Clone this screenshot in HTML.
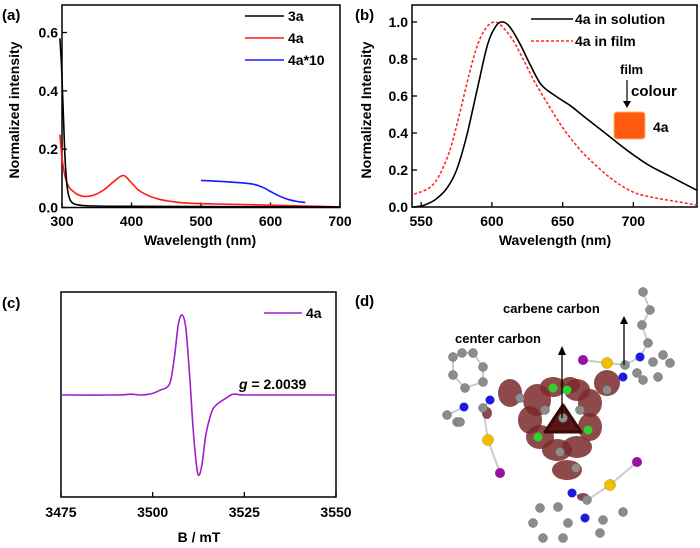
<!DOCTYPE html>
<html><head><meta charset="utf-8"><style>
body{margin:0;background:#fff}
svg{display:block;font-family:"Liberation Sans",sans-serif;font-weight:bold}
</style></head><body>
<svg width="700" height="548" viewBox="0 0 700 548">
<g id="pa"></g>
<g id="pb"></g>
<g id="pc"></g>
<g id="pd"></g>
</svg>
<script>
// Panel a data
const aX3a=[297,299,301,303,305,308,312,318,330,350,400,500,700];
const aY3a=[0.58,0.5,0.38,0.25,0.14,0.06,0.025,0.012,0.007,0.005,0.004,0.003,0.002];
const aX4a=[297,300,305,310,315,322,332,345,360,375,388,398,410,425,440,460,480,520,560,600,650,700];
const aY4a=[0.25,0.17,0.1,0.07,0.058,0.045,0.038,0.042,0.06,0.09,0.11,0.09,0.06,0.04,0.028,0.02,0.015,0.012,0.01,0.008,0.005,0.002];
const aX10=[500,525,550,575,590,600,612,625,640,650];
const aY10=[0.093,0.09,0.086,0.08,0.068,0.055,0.04,0.028,0.02,0.017];
const aXTicks=[300,400,500,600,700];
const aYTicks=[0.0,0.2,0.4,0.6];
// Panel b data
const bXSol=[545,552,560,568,575,582,590,597,603,608,613,620,627,635,645,655,665,680,695,710,725,745];
const bYSol=[0.0,0.01,0.04,0.1,0.2,0.38,0.65,0.88,0.98,1.0,0.97,0.88,0.77,0.66,0.6,0.55,0.49,0.4,0.31,0.23,0.17,0.09];
const bXFilm=[545,555,562,570,577,584,590,596,602,608,615,622,630,640,650,660,670,685,700,715,730,745];
const bYFilm=[0.07,0.1,0.16,0.3,0.5,0.72,0.88,0.97,1.0,0.97,0.9,0.8,0.68,0.55,0.43,0.33,0.25,0.15,0.08,0.05,0.03,0.01];
const bXTicks=[550,600,650,700];
const bYTicks=[0.0,0.2,0.4,0.6,0.8,1.0];
// Panel c data
const cX=[3475,3490,3494,3497,3500,3502,3504,3505,3506,3507,3508,3509,3510,3511,3512,3512.7,3513.5,3514.5,3515.5,3516.5,3518,3520,3522,3525,3535,3550];
const cY=[0,0,0.01,0,0.02,0.06,0.1,0.2,0.5,0.88,1.0,0.85,0.3,-0.4,-0.9,-1.0,-0.85,-0.5,-0.3,-0.17,-0.1,-0.04,0.01,0,0,0];
const cXTicks=[3475,3500,3525,3550];

const NS="http://www.w3.org/2000/svg";
function el(parent,tag,attrs,name,text){const e=document.createElementNS(NS,tag);for(const k in attrs)e.setAttribute(k,attrs[k]);


if(text!==undefined)e.textContent=text;parent.appendChild(e);return e;}
function path(xs,ys,sx,sy){
 const p=xs.map((x,i)=>[sx(x),sy(ys[i])]);
 let d='M'+p[0][0].toFixed(1)+','+p[0][1].toFixed(1);
 for(let i=0;i<p.length-1;i++){
  const p0=p[i?i-1:0],p1=p[i],p2=p[i+1],p3=p[i+2<p.length?i+2:i+1];
  const c1x=p1[0]+(p2[0]-p0[0])/6,c1y=p1[1]+(p2[1]-p0[1])/6;
  const c2x=p2[0]-(p3[0]-p1[0])/6,c2y=p2[1]-(p3[1]-p1[1])/6;
  d+=' C'+c1x.toFixed(1)+','+c1y.toFixed(1)+' '+c2x.toFixed(1)+','+c2y.toFixed(1)+' '+p2[0].toFixed(1)+','+p2[1].toFixed(1);
 }
 return d;}

// ---- Panel a ----
(function(){const g=document.getElementById('pa');
const L=62,R=340,T=5,B=207.5;
const sx=x=>L+(x-300)/400*(R-L), sy=y=>B-y/0.6*175;
el(g,'rect',{x:L,y:T,width:R-L,height:B-T,fill:'none',stroke:'#000','stroke-width':1.5},'plot-frame-a');
aXTicks.forEach(t=>{el(g,'line',{x1:sx(t),x2:sx(t),y1:B,y2:B-5,stroke:'#000','stroke-width':1.3},'x-tick-a');
el(g,'text',{x:sx(t),y:226,'text-anchor':'middle','font-size':14},'x-tick-label-a',String(t));});
aYTicks.forEach(t=>{el(g,'line',{x1:L,x2:L+5,y1:sy(t),y2:sy(t),stroke:'#000','stroke-width':1.3},'y-tick-a');
el(g,'text',{x:L-4,y:sy(t)+5,'text-anchor':'end','font-size':14},'y-tick-label-a',t.toFixed(1));});
el(g,'path',{d:path(aX4a,aY4a,sx,sy),fill:'none',stroke:'#ff1a1a','stroke-width':1.6},'series-4a');
el(g,'path',{d:path(aX3a,aY3a,sx,sy),fill:'none',stroke:'#000','stroke-width':1.6},'series-3a');
el(g,'path',{d:path(aX10,aY10,sx,sy),fill:'none',stroke:'#1a1aff','stroke-width':1.6},'series-4a-x10');
[['3a','#000',16],['4a','#ff1a1a',38],['4a*10','#1a1aff',60]].forEach(([n,c,y])=>{
el(g,'line',{x1:245,x2:284,y1:y,y2:y,stroke:c,'stroke-width':1.6},'legend-line-'+n);
el(g,'text',{x:288,y:y+5,'font-size':14},'legend-label-'+n,n);});
el(g,'text',{x:2,y:20,'font-size':15},'panel-label-a','(a)');
el(g,'text',{x:200,y:245,'text-anchor':'middle','font-size':14},'x-axis-title-a','Wavelength (nm)');
el(g,'text',{x:0,y:0,'text-anchor':'middle','font-size':14,transform:'translate(19,110) rotate(-90)'},'y-axis-title-a','Normalized intensity');
})();

// ---- Panel b ----
(function(){const g=document.getElementById('pb');
const L=412,R=697,T=5,B=207;
const sx=x=>L+(x-543.5)/201.5*(R-L), sy=y=>B-y*185;
el(g,'rect',{x:L,y:T,width:R-L,height:B-T,fill:'none',stroke:'#000','stroke-width':1.5},'plot-frame-b');
bXTicks.forEach(t=>{el(g,'line',{x1:sx(t),x2:sx(t),y1:B,y2:B-5,stroke:'#000','stroke-width':1.3},'x-tick-b');
el(g,'text',{x:sx(t),y:226,'text-anchor':'middle','font-size':14},'x-tick-label-b',String(t));});
bYTicks.forEach(t=>{el(g,'line',{x1:L,x2:L+5,y1:sy(t),y2:sy(t),stroke:'#000','stroke-width':1.3},'y-tick-b');
el(g,'text',{x:L-4,y:sy(t)+5,'text-anchor':'end','font-size':14},'y-tick-label-b',t.toFixed(1));});
el(g,'path',{d:path(bXFilm,bYFilm,sx,sy),fill:'none',stroke:'#ff2a2a','stroke-width':1.6,'stroke-dasharray':'3,2'},'series-film');
el(g,'path',{d:path(bXSol,bYSol,sx,sy),fill:'none',stroke:'#000','stroke-width':1.6},'series-solution');
el(g,'line',{x1:531,x2:573,y1:19,y2:19,stroke:'#000','stroke-width':1.6},'legend-line-solution');
el(g,'text',{x:575,y:24,'font-size':14},'legend-label-solution','4a in solution');
el(g,'line',{x1:531,x2:573,y1:41,y2:41,stroke:'#ff2a2a','stroke-width':1.6,'stroke-dasharray':'3,2'},'legend-line-film');
el(g,'text',{x:575,y:46,'font-size':14},'legend-label-film','4a in film');
el(g,'text',{x:620,y:74,'font-size':13},'film-label','film');
el(g,'line',{x1:627,x2:627,y1:80,y2:104,stroke:'#000','stroke-width':1.2},'film-arrow');
el(g,'path',{d:'M623,101 L631,101 L627,108 Z',fill:'#000'},'film-arrow-head');
el(g,'text',{x:631,y:96,'font-size':15},'colour-label','colour');
el(g,'rect',{x:614,y:112,width:31,height:27,rx:3,fill:'#ff5a10',stroke:'#ffb070','stroke-width':1},'film-colour-swatch');
el(g,'text',{x:653,y:132,'font-size':14},'swatch-label','4a');
el(g,'text',{x:355,y:20,'font-size':15},'panel-label-b','(b)');
el(g,'text',{x:555,y:245,'text-anchor':'middle','font-size':14},'x-axis-title-b','Wavelength (nm)');
el(g,'text',{x:0,y:0,'text-anchor':'middle','font-size':14,transform:'translate(371,110) rotate(-90)'},'y-axis-title-b','Normalized Intensity');
})();

// ---- Panel c ----
(function(){const g=document.getElementById('pc');
const L=61,R=336,T=292,B=497,base=395;
const sx=x=>L+(x-3475)/75*(R-L), sy=y=>base-y*80;
el(g,'rect',{x:L,y:T,width:R-L,height:B-T,fill:'none',stroke:'#000','stroke-width':1.5},'plot-frame-c');
cXTicks.forEach(t=>{el(g,'line',{x1:sx(t),x2:sx(t),y1:B,y2:B-5,stroke:'#000','stroke-width':1.3},'x-tick-c');
el(g,'text',{x:sx(t),y:517,'text-anchor':'middle','font-size':14},'x-tick-label-c',String(t));});
el(g,'path',{d:path(cX,cY,sx,sy),fill:'none',stroke:'#a020c8','stroke-width':1.6},'series-esr-4a');
el(g,'line',{x1:264,x2:302,y1:313,y2:313,stroke:'#a020c8','stroke-width':1.6},'legend-line-c');
el(g,'text',{x:306,y:318,'font-size':14},'legend-label-c','4a');
const gt=el(g,'text',{x:239,y:389,'font-size':14},'g-value-label','');
const i=document.createElementNS(NS,'tspan');i.setAttribute('font-style','italic');i.textContent='g';


gt.appendChild(i);gt.appendChild(document.createTextNode(' = 2.0039'));
el(g,'text',{x:2,y:308,'font-size':15},'panel-label-c','(c)');
el(g,'text',{x:199,y:542,'text-anchor':'middle','font-size':14},'x-axis-title-c','B / mT');
})();

// ---- Panel d (molecule illustration) ----
(function(){const g=document.getElementById('pd');
el(g,'text',{x:355,y:306,'font-size':15},'panel-label-d','(d)');
// bonds
const bonds=[[453,357],[462,353],[473,353],[483,367],[483,382],[465,388],[453,375],[453,357]];
el(g,'path',{d:'M'+bonds.map(p=>p.join(',')).join(' L'),fill:'none',stroke:'#ccc','stroke-width':2},'bond-ring');
[[483,408,488,440],[488,440,500,473],[583,360,607,363],[607,363,625,365],[625,365,640,357],[640,357,648,343],[648,343,642,325],[642,325,650,310],[650,310,643,292],[587,500,610,485],[610,485,637,462],[572,493,587,500],[464,407,447,415],[490,400,483,408]].forEach(b=>
el(g,'line',{x1:b[0],y1:b[1],x2:b[2],y2:b[3],stroke:'#ccc','stroke-width':2},'bond'));
// lobes
[[510,393,12,14],[537,400,14,16],[553,387,13,10],[577,390,13,11],[590,403,12,14],[607,383,13,13],[530,420,12,14],[590,427,12,14],[540,437,14,12],[557,450,15,11],[577,447,15,11],[567,470,15,10],[583,497,6,4],[487,413,5,6],[570,385,10,8]].forEach(p=>{
el(g,'ellipse',{cx:p[0],cy:p[1],rx:p[2],ry:p[3],fill:'#7a2a2a',opacity:0.85},'spin-density-lobe');});
el(g,'path',{d:'M563,405 L581,432 L545,432 Z',fill:'#5a1515',stroke:'#3a0a0a','stroke-width':3,'stroke-linejoin':'round'},'center-lobe');
[[553,388],[567,390],[538,437],[588,430]].forEach(p=>el(g,'circle',{cx:p[0],cy:p[1],r:4.5,fill:'#2fd02f'},'negative-lobe'));
// gray atoms
[[453,357],[462,353],[473,353],[483,367],[483,382],[465,388],[453,375],[483,408],[447,415],[457,422],[460,422],
 [643,292],[650,310],[642,325],[648,343],[625,365],[653,362],[663,355],[670,363],[658,377],[643,380],[637,373],
 [540,508],[558,507],[568,523],[563,538],[543,538],[533,523],[587,500],[603,520],[623,512],[600,533],
 [520,398],[563,418],[545,410],[580,410],[607,390],[560,452],[576,468]].forEach(p=>el(g,'circle',{cx:p[0],cy:p[1],r:4.5,fill:'#8c8c8c',stroke:'#666','stroke-width':0.5},'carbon-atom'));
[[490,400],[464,407],[640,357],[623,377],[572,493],[585,518]].forEach(p=>el(g,'circle',{cx:p[0],cy:p[1],r:4.5,fill:'#1a1ae0'},'nitrogen-atom'));
[[488,440],[607,363],[610,485]].forEach(p=>el(g,'circle',{cx:p[0],cy:p[1],r:5.5,fill:'#f0c000',stroke:'#b08a00','stroke-width':0.5},'sulfur-atom'));
[[500,473],[583,360],[637,462]].forEach(p=>el(g,'circle',{cx:p[0],cy:p[1],r:5,fill:'#9a10a0'},'iodine-atom'));
// labels and arrows
el(g,'text',{x:455,y:343,'font-size':13},'center-carbon-label','center carbon');
el(g,'line',{x1:562,x2:562,y1:418,y2:353,stroke:'#000','stroke-width':1.3},'center-carbon-arrow');
el(g,'path',{d:'M558,355 L566,355 L562,346 Z',fill:'#000'},'center-carbon-arrowhead');
el(g,'text',{x:503,y:313,'font-size':13},'carbene-carbon-label','carbene carbon');
el(g,'line',{x1:624,x2:624,y1:365,y2:322,stroke:'#000','stroke-width':1.3},'carbene-carbon-arrow');
el(g,'path',{d:'M620,324 L628,324 L624,316 Z',fill:'#000'},'carbene-carbon-arrowhead');
})();
</script>
</body></html>
